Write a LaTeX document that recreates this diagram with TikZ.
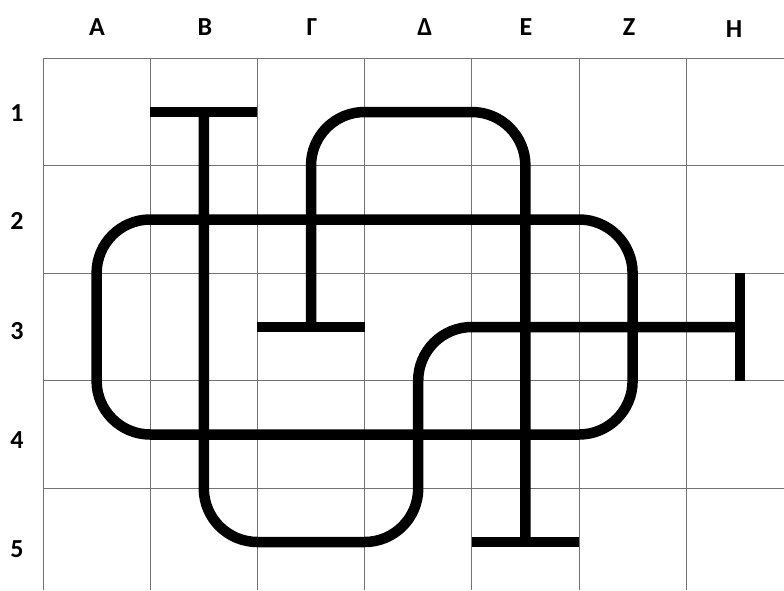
\documentclass[tikz,border=0pt]{standalone}
\usepackage{fontspec}
\setmainfont{Carlito}
\begin{document}
\begin{tikzpicture}[x=1pt,y=-1pt,
  gridline/.style={draw=black!55,line width=0.9pt},
  pipe/.style={draw=black,line width=10.5pt,line cap=butt,line join=round,rounded corners=53.6pt},
  bar/.style={draw=black,line width=10.5pt,line cap=butt},
  lab/.style={font=\bfseries\fontsize{26}{26}\selectfont,inner sep=0pt}]
\useasboundingbox (0,0) rectangle (784,590);
% grid
\foreach \x in {43,150.2,257.4,364.6,471.8,579,686.2}
  \draw[gridline] (\x,58.3) -- (\x,590);
\foreach \y in {58.3,165.8,273.3,380.8,488.3}
  \draw[gridline] (43,\y) -- (784,\y);
% column labels
\node[lab] (cA) at (97,27) {Α};
\node[lab] (cB) at (205,27) {Β};
\node[lab] (cG) at (312,27) {Γ};
\node[lab] (cD) at (425,27) {Δ};
\node[lab] (cE) at (526,27) {Ε};
\node[lab] (cZ) at (629,27) {Ζ};
\node[lab] (cH) at (734,29) {Η};
% row labels
\node[lab] (r1) at (17,113) {1};
\node[lab] (r2) at (17,221) {2};
\node[lab] (r3) at (17,331) {3};
\node[lab] (r4) at (17,440) {4};
\node[lab] (r5) at (17,549) {5};
% pipes
\draw[pipe] (203.8,112) -- (203.8,542) -- (418.2,542) -- (418.2,327) -- (739.8,327);
\draw[pipe] (311,327) -- (311,112) -- (525.4,112) -- (525.4,542);
\draw[pipe] (96.6,219.5) -- (632.6,219.5) -- (632.6,434.5) -- (96.6,434.5) -- cycle;
% T bars
\draw[bar] (150.2,112) -- (257.4,112);
\draw[bar] (257.4,327) -- (364.6,327);
\draw[bar] (471.8,542) -- (579,542);
\draw[bar] (739.8,273.3) -- (739.8,380.8);
\end{tikzpicture}
\end{document}
